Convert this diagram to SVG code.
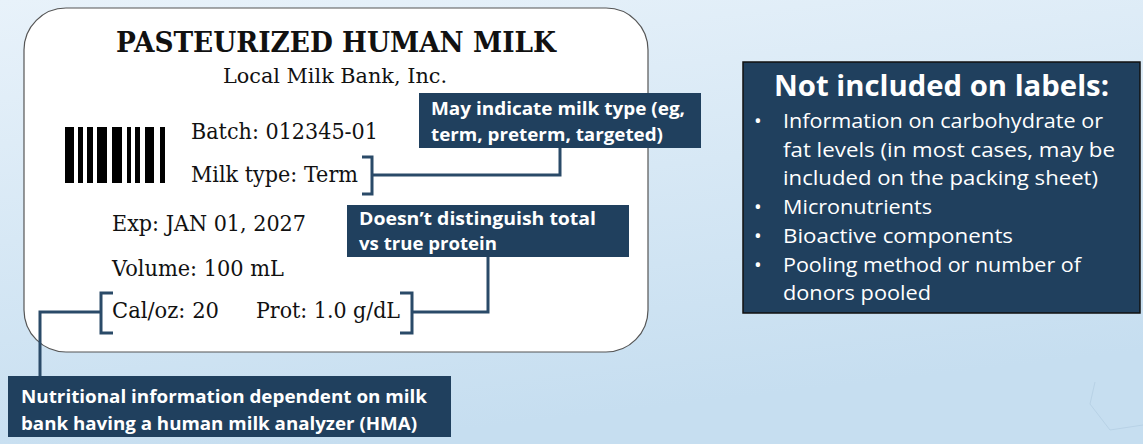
<svg xmlns="http://www.w3.org/2000/svg" width="1143" height="444" viewBox="0 0 1143 444">
<defs>
<linearGradient id="bg" x1="0" y1="0" x2="0.3" y2="1">
<stop offset="0" stop-color="#e8f2fa"/>
<stop offset="1" stop-color="#c6def0"/>
</linearGradient>
<style>
.serif{font-family:"DejaVu Serif","Liberation Serif",serif;fill:#111}
.call{fill:#20405e}
.ct{font-family:"Open Sans","Noto Sans",sans-serif;font-weight:700;font-size:18.5px;fill:#fff}
.conn{fill:none;stroke:#2a4a68;stroke-width:3}
.bl{font-family:"Open Sans","Noto Sans",sans-serif;font-size:20.5px;fill:#fff}
</style>
</defs>
<rect width="1143" height="444" fill="url(#bg)"/>
<path d="M1095 382 L1090 404 L1110 430 L1143 425" fill="none" stroke="#b8d2e6" stroke-width="1"/>

<g id="label">
<rect x="24" y="8" width="624" height="344" rx="42" fill="#fff" stroke="#555" stroke-width="1.2"/>
<text class="serif" x="116" y="52" font-size="27" font-weight="700" textLength="440" lengthAdjust="spacingAndGlyphs">PASTEURIZED HUMAN MILK</text>
<text class="serif" x="223" y="83" font-size="21" textLength="224" lengthAdjust="spacingAndGlyphs">Local Milk Bank, Inc.</text>
<g id="barcode" fill="#000">
<rect x="65" y="127" width="9" height="56"/>
<rect x="78" y="127" width="5" height="56"/>
<rect x="87" y="127" width="6" height="56"/>
<rect x="97" y="127" width="10" height="56"/>
<rect x="112" y="127" width="10" height="56"/>
<rect x="127" y="127" width="4" height="56"/>
<rect x="135" y="127" width="5" height="56"/>
<rect x="145" y="127" width="9" height="56"/>
<rect x="160" y="127" width="5" height="56"/>
</g>
<text class="serif" x="191" y="139" font-size="22" textLength="187" lengthAdjust="spacingAndGlyphs">Batch: 012345-01</text>
<text class="serif" x="191" y="182" font-size="22" textLength="167" lengthAdjust="spacingAndGlyphs">Milk type: Term</text>
<text class="serif" x="112" y="231" font-size="22" textLength="194" lengthAdjust="spacingAndGlyphs">Exp: JAN 01, 2027</text>
<text class="serif" x="112" y="276" font-size="22" textLength="172" lengthAdjust="spacingAndGlyphs">Volume: 100 mL</text>
<text class="serif" x="112" y="318" font-size="22" textLength="107" lengthAdjust="spacingAndGlyphs">Cal/oz: 20</text>
<text class="serif" x="256" y="318" font-size="22" textLength="144" lengthAdjust="spacingAndGlyphs">Prot: 1.0 g/dL</text>
</g>

<g id="connectors">
<path class="conn" d="M362 157 H372 V194 H362"/>
<path class="conn" d="M372 175 H560 V147"/>
<path class="conn" d="M113 293 H101 V333 H113"/>
<path class="conn" d="M101 312 H40 V376"/>
<path class="conn" d="M400 293 H412 V333 H400"/>
<path class="conn" d="M412 312 H488 V257"/>
</g>

<g id="callout-milktype">
<rect class="call" x="419" y="93" width="282" height="55"/>
<text class="ct" x="431" y="115" textLength="254" lengthAdjust="spacingAndGlyphs">May indicate milk type (eg,</text>
<text class="ct" x="431" y="141" textLength="232" lengthAdjust="spacingAndGlyphs">term, preterm, targeted)</text>
</g>

<g id="callout-protein">
<rect class="call" x="347" y="205" width="282" height="52"/>
<text class="ct" x="359" y="225" textLength="237" lengthAdjust="spacingAndGlyphs">Doesn’t distinguish total</text>
<text class="ct" x="359" y="250" textLength="138" lengthAdjust="spacingAndGlyphs">vs true protein</text>
</g>

<g id="callout-hma">
<rect class="call" x="8" y="376" width="443" height="61"/>
<text class="ct" x="21" y="403" textLength="406" lengthAdjust="spacingAndGlyphs">Nutritional information dependent on milk</text>
<text class="ct" x="21" y="430" textLength="396" lengthAdjust="spacingAndGlyphs">bank having a human milk analyzer (HMA)</text>
</g>

<g id="not-included">
<rect x="743" y="62" width="397" height="251" fill="#20405e" stroke="#111" stroke-width="1.5"/>
<text x="774" y="96" textLength="335" lengthAdjust="spacingAndGlyphs" font-family="Open Sans, Noto Sans, sans-serif" font-weight="700" font-size="28.5" fill="#fff">Not included on labels:</text>
<g class="bl">
<text x="754" y="128">•</text><text x="783" y="128" textLength="320" lengthAdjust="spacingAndGlyphs">Information on carbohydrate or</text>
<text x="783" y="157" textLength="332" lengthAdjust="spacingAndGlyphs">fat levels (in most cases, may be</text>
<text x="783" y="185" textLength="315" lengthAdjust="spacingAndGlyphs">included on the packing sheet)</text>
<text x="754" y="214">•</text><text x="783" y="214" textLength="149" lengthAdjust="spacingAndGlyphs">Micronutrients</text>
<text x="754" y="243">•</text><text x="783" y="243" textLength="230" lengthAdjust="spacingAndGlyphs">Bioactive components</text>
<text x="754" y="272">•</text><text x="783" y="272" textLength="298" lengthAdjust="spacingAndGlyphs">Pooling method or number of</text>
<text x="783" y="300" textLength="148" lengthAdjust="spacingAndGlyphs">donors pooled</text>
</g>
</g>
</svg>
